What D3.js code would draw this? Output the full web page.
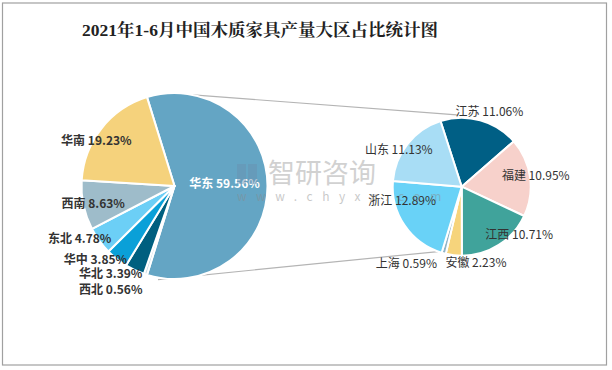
<!DOCTYPE html>
<html>
<head>
<meta charset="utf-8">
<script src="https://cdnjs.cloudflare.com/ajax/libs/d3/7.8.5/d3.min.js"></script>
<style>
	body { margin: 0; background: #fff; }
	svg { display: block; font-family: 'Noto Sans CJK SC', 'Noto Sans', sans-serif; }
</style>
</head>
<body>
<svg id="chart" width="612" height="370"></svg>
<script>
// data: share of production per region (main pie), and the split of 华东 (second pie)
const mainRegions = ['华东', '西北', '华北', '华中', '东北', '西南', '华南'];
const mainShares = [59.56, 0.56, 3.39, 3.85, 4.78, 8.63, 19.23];
const subProvinces = ['江苏', '福建', '江西', '安徽', '上海', '浙江', '山东'];
const subShares = [11.06, 10.95, 10.71, 2.23, 0.59, 12.89, 11.13];
const titleText = '2021年1-6月中国木质家具产量大区占比统计图';

(function() {

	'use strict';

	const settings = {
		width: 612,
		height: 370,
		main: { cx: 174.5, cy: 186, r: 93 },
		sub: { cx: 461.7, cy: 186.7, r: 69 },
		subStart: -17.9,
		mainColors: ['#64a5c4', '#c9dde6', '#005f7f', '#0aa0d8', '#6ccff6', '#9ebcca', '#f5d27c'],
		subColors: ['#005f85', '#f7d1cb', '#40a39b', '#f6d47c', '#8fb4c7', '#69d2f7', '#a8ddf5'],
		// label nudges (px) from the slice centroid at 0.85 r
		mainNudge: [[-29, -2], [-39, 29], [-30, 16], [-30, 12], [-31, 6], [-4, 1], [-16, 4]],
		subNudge: [[12, -18], [16, -3], [26, -1], [21, 18], [-40, 20], [-11, -19], [-17, 0]]
	};

	const rad = function(deg) { return deg * Math.PI / 180; };

	const svg = d3.select('#chart');

	/**
	* point on a circle, d3 angle convention (0 = 12 o'clock, clockwise)
	*/
	const polar = function(c, r, deg) {
		return [c.cx + r * Math.sin(rad(deg)), c.cy - r * Math.cos(rad(deg))];
	};

	const drawFrame = function() {
		svg.append('rect')
			.attr('x', 2.5).attr('y', 3)
			.attr('width', 604).attr('height', 362)
			.attr('fill', 'none')
			.attr('stroke', '#a0a0a0')
			.attr('stroke-width', 1.2);

		svg.append('text')
			.attr('x', 260).attr('y', 30)
			.attr('dy', '0.35em')
			.attr('text-anchor', 'middle')
			.style('font-family', "'Liberation Serif', 'Noto Serif CJK SC', 'Noto Sans CJK SC', serif")
			.style('font-size', '17.5px')
			.style('font-weight', 'bold')
			.attr('fill', '#222')
			.text(titleText);
	};

	const drawConnectors = function() {
		const m = settings.main, s = settings.sub;
		const lines = [
			[polar(m, m.r, 11.5), polar(s, s.r + 3, -4)],
			[polar(m, m.r + 2, 190), polar(s, s.r, 200)]
		];
		svg.append('g')
			.selectAll('line')
			.data(lines)
			.enter()
			.append('line')
			.attr('x1', function(d) { return d[0][0]; })
			.attr('y1', function(d) { return d[0][1]; })
			.attr('x2', function(d) { return d[1][0]; })
			.attr('y2', function(d) { return d[1][1]; })
			.attr('stroke', '#b4b4b4')
			.attr('stroke-width', 1.2);
	};

	/**
	* draw one pie with its labels
	*/
	const drawPie = function(names, values, c, startDeg, colors, nudge, opts) {
		const start = rad(startDeg);
		const pie = d3.pie().sort(null)
			.startAngle(start)
			.endAngle(start + 2 * Math.PI);
		const arcs = pie(values);
		const arc = d3.arc().innerRadius(0).outerRadius(c.r);
		const labelArc = d3.arc().innerRadius(c.r * 0.85).outerRadius(c.r * 0.85);

		const g = svg.append('g')
			.attr('transform', 'translate(' + c.cx + ',' + c.cy + ')');

		g.selectAll('path')
			.data(arcs)
			.enter()
			.append('path')
			.attr('d', arc)
			.attr('fill', function(d, i) { return colors[i]; })
			.attr('stroke', '#fff')
			.attr('stroke-width', 2)
			.attr('stroke-linejoin', 'round');

		g.selectAll('text')
			.data(arcs)
			.enter()
			.append('text')
			.attr('x', function(d, i) { return labelArc.centroid(d)[0] + nudge[i][0]; })
			.attr('y', function(d, i) { return labelArc.centroid(d)[1] + nudge[i][1]; })
			.attr('dy', '0.35em')
			.attr('text-anchor', 'middle')
			.style('font-size', '12px')
			.style('font-weight', opts.bold ? 'bold' : 'normal')
			.attr('fill', function(d, i) { return opts.whiteFirst && i === 0 ? '#fff' : '#333'; })
			.text(function(d, i) { return names[i] + ' ' + values[i].toFixed(2) + '%'; });
	};

	const drawWatermark = function() {
		const wm = svg.append('g').attr('opacity', 0.45);
		wm.append('rect').attr('x', 237).attr('y', 164).attr('width', 9).attr('height', 20).attr('fill', '#6a8fb0');
		wm.append('rect').attr('x', 248).attr('y', 164).attr('width', 9).attr('height', 20).attr('fill', '#6a8fb0');
		wm.append('text')
			.attr('x', 268).attr('y', 174).attr('dy', '0.35em')
			.style('font-size', '27px')
			.attr('fill', '#9a9a9a')
			.text('智研咨询');
		wm.append('text')
			.attr('x', 237).attr('y', 197).attr('dy', '0.35em')
			.style('font-size', '12px')
			.style('letter-spacing', '9.5px')
			.attr('fill', '#8a8a8a')
			.text('www.chyxx.com');
	};

	const s = settings;
	drawFrame();
	drawConnectors();
	drawPie(mainRegions, mainShares, s.main, 90 - 180 * mainShares[0] / 100, s.mainColors, s.mainNudge, { bold: true, whiteFirst: true });
	drawPie(subProvinces, subShares, s.sub, s.subStart, s.subColors, s.subNudge, { bold: false });
	drawWatermark();

})();
</script>
</body>
</html>
